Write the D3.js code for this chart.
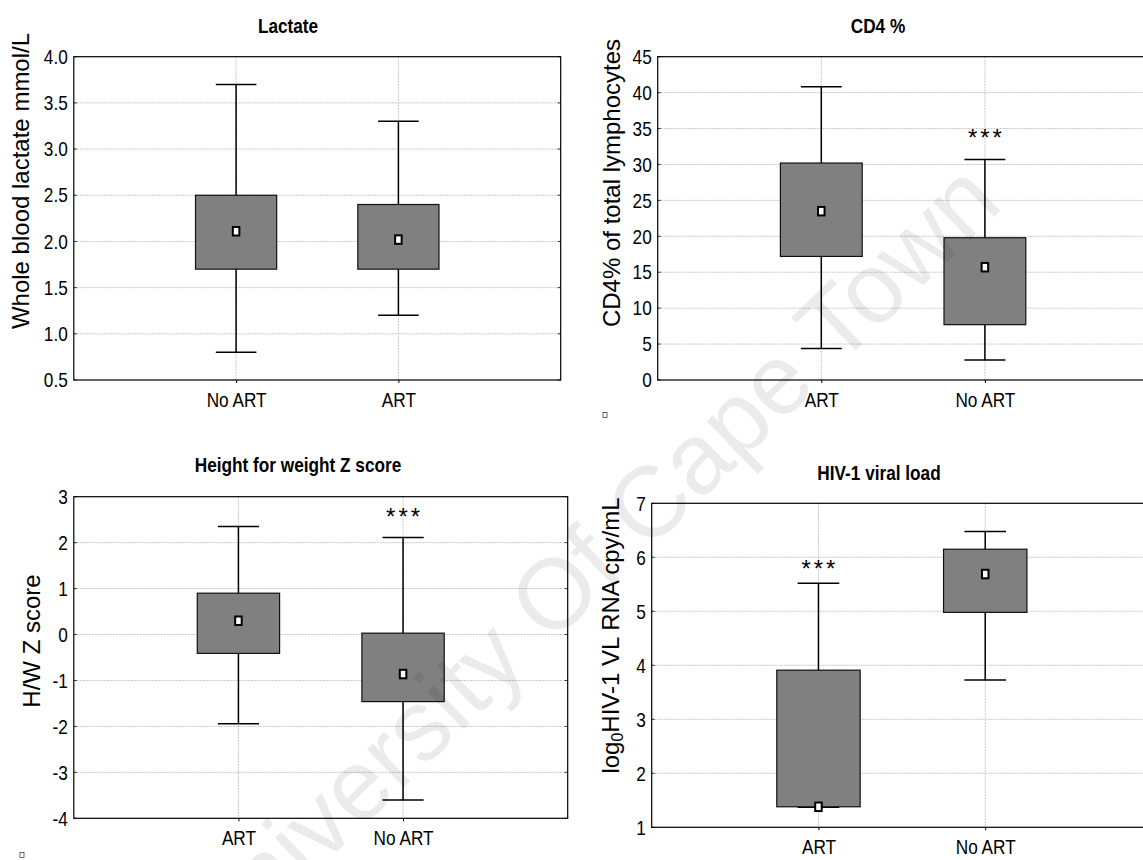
<!DOCTYPE html>
<html>
<head>
<meta charset="utf-8">
<script src="https://cdn.jsdelivr.net/npm/d3@7"></script>
<style>
  body { margin: 0; background: #fff; }
  svg { display: block; }
</style>
</head>
<body>
<svg width="1143" height="860"></svg>
<script>
// ---- data ----
const lactateGroups = ["No ART", "ART"];
const lactateMin = [0.8, 1.2];
const lactateQ1 = [1.7, 1.7];
const lactateMedian = [2.11, 2.02];
const lactateQ3 = [2.5, 2.4];
const lactateMax = [3.7, 3.3];
const lactateStars = [null, null];
const lactateTicks = [0.5, 1.0, 1.5, 2.0, 2.5, 3.0, 3.5, 4.0];

const cd4Groups = ["ART", "No ART"];
const cd4Min = [4.4, 2.8];
const cd4Q1 = [17.2, 7.7];
const cd4Median = [23.5, 15.7];
const cd4Q3 = [30.2, 19.8];
const cd4Max = [40.8, 30.7];
const cd4Stars = [null, 34.4];
const cd4Ticks = [0, 5, 10, 15, 20, 25, 30, 35, 40, 45];

const hwGroups = ["ART", "No ART"];
const hwMin = [-1.94, -3.6];
const hwQ1 = [-0.41, -1.46];
const hwMedian = [0.3, -0.86];
const hwQ3 = [0.9, 0.03];
const hwMax = [2.35, 2.11];
const hwStars = [null, 2.67];
const hwTicks = [-4, -3, -2, -1, 0, 1, 2, 3];

const vlGroups = ["ART", "No ART"];
const vlMin = [1.37, 3.73];
const vlQ1 = [1.38, 4.98];
const vlMedian = [1.38, 5.69];
const vlQ3 = [3.91, 6.15];
const vlMax = [5.52, 6.48];
const vlStars = [5.88, null];
const vlTicks = [1, 2, 3, 4, 5, 6, 7];

// ---- fonts ----
const narrowOK = (() => {
  const ctx = document.createElement("canvas").getContext("2d");
  ctx.font = "40px monospace";
  const a = ctx.measureText("No ART 0.5").width;
  ctx.font = '40px "Liberation Sans Narrow", monospace';
  return Math.abs(ctx.measureText("No ART 0.5").width - a) > 0.5;
})();
const NARROW = narrowOK ? '"Liberation Sans Narrow", "Arial Narrow"' : '"Liberation Sans", Arial';
const SQ = narrowOK ? 1 : 0.82;
const SANS = '"Liberation Sans", Arial, sans-serif';

const svg = d3.select("svg");

const panels = [
  { title: "Lactate", ylabel: "Whole blood lactate mmol/L",
    groups: lactateGroups, min: lactateMin, q1: lactateQ1, med: lactateMedian, q3: lactateQ3, max: lactateMax,
    stars: lactateStars, ticks: lactateTicks, fmt: d3.format(".1f"),
    l: 73.8, t: 56.7, r: 560.7, b: 380, titleX: 288, titleY: 32.5, labX: 29, labY: 181 },
  { title: "CD4 %", ylabel: "CD4% of total lymphocytes",
    groups: cd4Groups, min: cd4Min, q1: cd4Q1, med: cd4Median, q3: cd4Q3, max: cd4Max,
    stars: cd4Stars, ticks: cd4Ticks, fmt: d => String(d),
    l: 657.7, t: 56.7, r: 1148.5, b: 380, titleX: 878, titleY: 33, labX: 619.5, labY: 183 },
  { title: "Height for weight Z score", ylabel: "H/W Z score",
    groups: hwGroups, min: hwMin, q1: hwQ1, med: hwMedian, q3: hwQ3, max: hwMax,
    stars: hwStars, ticks: hwTicks, fmt: d => String(d),
    l: 73.8, t: 496.7, r: 567.7, b: 818.3, titleX: 298, titleY: 471.7, labX: 40, labY: 641 },
  { title: "HIV-1 viral load", ylabel: null,
    groups: vlGroups, min: vlMin, q1: vlQ1, med: vlMedian, q3: vlQ3, max: vlMax,
    stars: vlStars, ticks: vlTicks, fmt: d => String(d),
    l: 651.7, t: 503.3, r: 1152, b: 827.3, titleX: 879, titleY: 480, labX: 618.5, labY: 635.5 }
];

panels.forEach(p => {
  const g = svg.append("g");
  const x = d3.scalePoint().domain(p.groups).range([p.l, p.r]).padding(1);
  const y = d3.scaleLinear().domain([p.ticks[0], p.ticks[p.ticks.length - 1]]).range([p.b, p.t]);
  const step = x.step();

  // grid
  g.selectAll(".hg").data(p.ticks.slice(1, -1)).enter().append("line")
    .attr("x1", p.l).attr("x2", p.r).attr("y1", d => y(d)).attr("y2", d => y(d))
    .attr("stroke", "#c6c6c6").attr("stroke-dasharray", "2,1");
  g.selectAll(".vg").data(p.groups).enter().append("line")
    .attr("x1", d => x(d)).attr("x2", d => x(d)).attr("y1", p.t).attr("y2", p.b)
    .attr("stroke", "#c6c6c6").attr("stroke-dasharray", "2,1");

  // small inward ticks on both sides
  g.selectAll(".lt").data(p.ticks).enter().append("line")
    .attr("x1", p.l).attr("x2", p.l + 3).attr("y1", d => y(d)).attr("y2", d => y(d))
    .attr("stroke", "#333");
  g.selectAll(".rt").data(p.ticks).enter().append("line")
    .attr("x1", p.r - 3).attr("x2", p.r).attr("y1", d => y(d)).attr("y2", d => y(d))
    .attr("stroke", "#333");

  // frame
  g.append("rect").attr("x", p.l).attr("y", p.t).attr("width", p.r - p.l).attr("height", p.b - p.t)
    .attr("fill", "none").attr("stroke", "#000").attr("stroke-width", 1.2);

  // axes
  const ya = g.append("g").attr("transform", `translate(${p.l},0)`)
    .call(d3.axisLeft(y).tickValues(p.ticks).tickFormat(p.fmt).tickSize(0).tickPadding(6));
  ya.select(".domain").remove();
  ya.selectAll("text").style("font-family", NARROW).style("font-size", "21px").attr("fill", "#000")
    .attr("x", -6 / SQ).attr("transform", `scale(${SQ},1)`);

  const xa = g.append("g").attr("transform", `translate(0,${p.b})`)
    .call(d3.axisBottom(x).tickSize(3).tickPadding(9));
  xa.select(".domain").remove();
  xa.selectAll("line").attr("stroke", "#000");
  xa.selectAll("text").style("font-family", NARROW).style("font-size", "21px").attr("fill", "#000")
    .attr("transform", `scale(${SQ},1)`);

  // boxes
  const idx = d3.range(p.groups.length);
  const bw = step * 0.5, cw = step * 0.25;
  const items = g.selectAll(".item").data(idx).enter().append("g");
  items.append("line").attr("x1", i => x(p.groups[i])).attr("x2", i => x(p.groups[i]))
    .attr("y1", i => y(p.max[i])).attr("y2", i => y(p.min[i]))
    .attr("stroke", "#000").attr("stroke-width", 1.5);
  items.append("line").attr("x1", i => x(p.groups[i]) - cw / 2).attr("x2", i => x(p.groups[i]) + cw / 2)
    .attr("y1", i => y(p.max[i])).attr("y2", i => y(p.max[i]))
    .attr("stroke", "#000").attr("stroke-width", 1.5);
  items.append("line").attr("x1", i => x(p.groups[i]) - cw / 2).attr("x2", i => x(p.groups[i]) + cw / 2)
    .attr("y1", i => y(p.min[i])).attr("y2", i => y(p.min[i]))
    .attr("stroke", "#000").attr("stroke-width", 1.5);
  items.append("rect").attr("x", i => x(p.groups[i]) - bw / 2).attr("width", bw)
    .attr("y", i => y(p.q3[i])).attr("height", i => y(p.q1[i]) - y(p.q3[i]))
    .attr("fill", "#808080").attr("stroke", "#111").attr("stroke-width", 1.2);
  items.append("rect").attr("x", i => x(p.groups[i]) - 3.25).attr("width", 6.5)
    .attr("y", i => y(p.med[i]) - 4.25).attr("height", 8.5)
    .attr("fill", "#fff").attr("stroke", "#000").attr("stroke-width", 2);

  // significance stars
  g.selectAll(".star").data(idx.filter(i => p.stars[i] != null)).enter().append("text")
    .attr("x", i => x(p.groups[i]) + 1.5).attr("y", i => y(p.stars[i]) + 13.5)
    .attr("text-anchor", "middle").style("font-family", SANS).style("font-size", "24px")
    .style("letter-spacing", "3px").text("***");

  // title
  g.append("g").attr("transform", `translate(${p.titleX},${p.titleY})`)
    .append("text").attr("transform", `scale(${SQ},1)`).attr("text-anchor", "middle")
    .style("font-family", NARROW).style("font-size", "21px").style("font-weight", "bold")
    .text(p.title);

  // y label
  const yl = g.append("text").attr("transform", `translate(${p.labX},${p.labY}) rotate(-90)`)
    .attr("text-anchor", "middle").style("font-family", SANS).style("font-size", "24px");
  if (p.ylabel) {
    yl.text(p.ylabel);
  } else {
    yl.append("tspan").text("log");
    yl.append("tspan").attr("dy", "0.3em").style("font-size", "16px").text("0");
    yl.append("tspan").attr("dy", "-0.2em").text("HIV-1  VL RNA cpy/mL");
  }
});

// stray little squares from the source figure
const strayX = [605, 22];
const strayY = [415, 855];
svg.selectAll(".stray").data(strayX).enter().append("rect")
  .attr("x", (d, i) => d - 2).attr("y", (d, i) => strayY[i] - 2.5).attr("width", 4).attr("height", 5)
  .attr("fill", "none").attr("stroke", "#444").attr("stroke-width", 0.8);

// watermark
svg.append("text").attr("transform", "translate(610,588) rotate(-44)")
  .attr("text-anchor", "middle").style("font-family", SANS).style("font-size", "100px")
  .attr("fill", "#000").attr("fill-opacity", 0.08).text("University Of Cape Town");
</script>
</body>
</html>
